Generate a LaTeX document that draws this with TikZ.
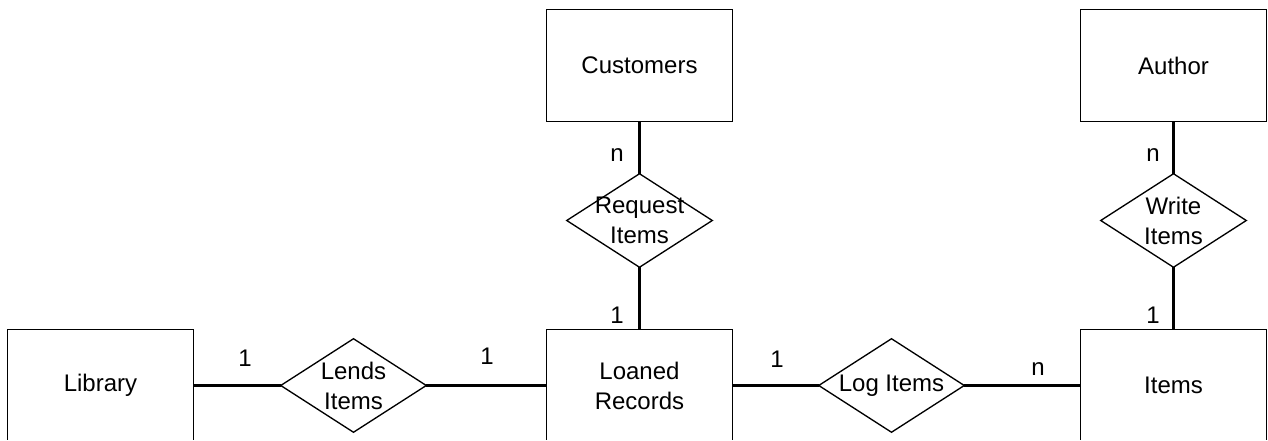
\documentclass[tikz,border=0pt]{standalone}
\usepackage{fontspec}
\setmainfont{Liberation Sans}

\begin{document}
\begin{tikzpicture}[x = 0.75pt, y = -0.75pt,
	every node/.style = {font = \fontsize{18}{22.5}\selectfont},
	entity/.style = {draw, line width = 1pt, minimum width = 139.5pt, minimum height = 84pt, inner sep = 0pt, align = center},
	relation/.style = {minimum width = 108.75pt, minimum height = 69.75pt, inner sep = 0pt, align = center},
	link/.style = {line width = 2.25pt}]
	\useasboundingbox (0,0) rectangle (1268,441);
	\clip (0,0) rectangle (1268,440);
	% entities
	\node[entity] (customers) at (639.5,65.5) {Customers};
	\node[entity] (author) at (1173.5,65.5) {Author};
	\node[entity] (library) at (100.5,385.5) {Library};
	\node[entity] (loaned) at (639.5,385.5) {Loaned\\Records};
	\node[entity] (items) at (1173.5,385.5) {Items};
	% relations
	\node[relation] (request) at (639.5,220.5) {Request\\Items};
	\node[relation] (write) at (1173.5,220.5) {Write\\Items};
	\node[relation] (lends) at (353.5,385.5) {Lends\\Items};
	\node[relation] (logitems) at (891.5,385.5) {Log Items};
	\foreach \r in {request,write,lends,logitems}
		\draw[line width = 1pt, line join = miter] (\r.north) -- (\r.east) -- (\r.south) -- (\r.west) -- cycle;
	% links
	\draw[link] (customers) -- (request);
	\draw[link] (request) -- (loaned);
	\draw[link] (author) -- (write);
	\draw[link] (write) -- (items);
	\draw[link] (library) -- (lends);
	\draw[link] (lends) -- (loaned);
	\draw[link] (loaned) -- (logitems);
	\draw[link] (logitems) -- (items);
	% cardinalities
	\node (cusN) at (617,155) {n};
	\node (reqOne) at (617,315.5) {1};
	\node (autN) at (1153,155) {n};
	\node (wrOne) at (1153,315.5) {1};
	\node (libOne) at (245,358) {1};
	\node (loanOne) at (487,356) {1};
	\node (logOne) at (777,359) {1};
	\node (itemN) at (1038,369) {n};
\end{tikzpicture}
\end{document}
